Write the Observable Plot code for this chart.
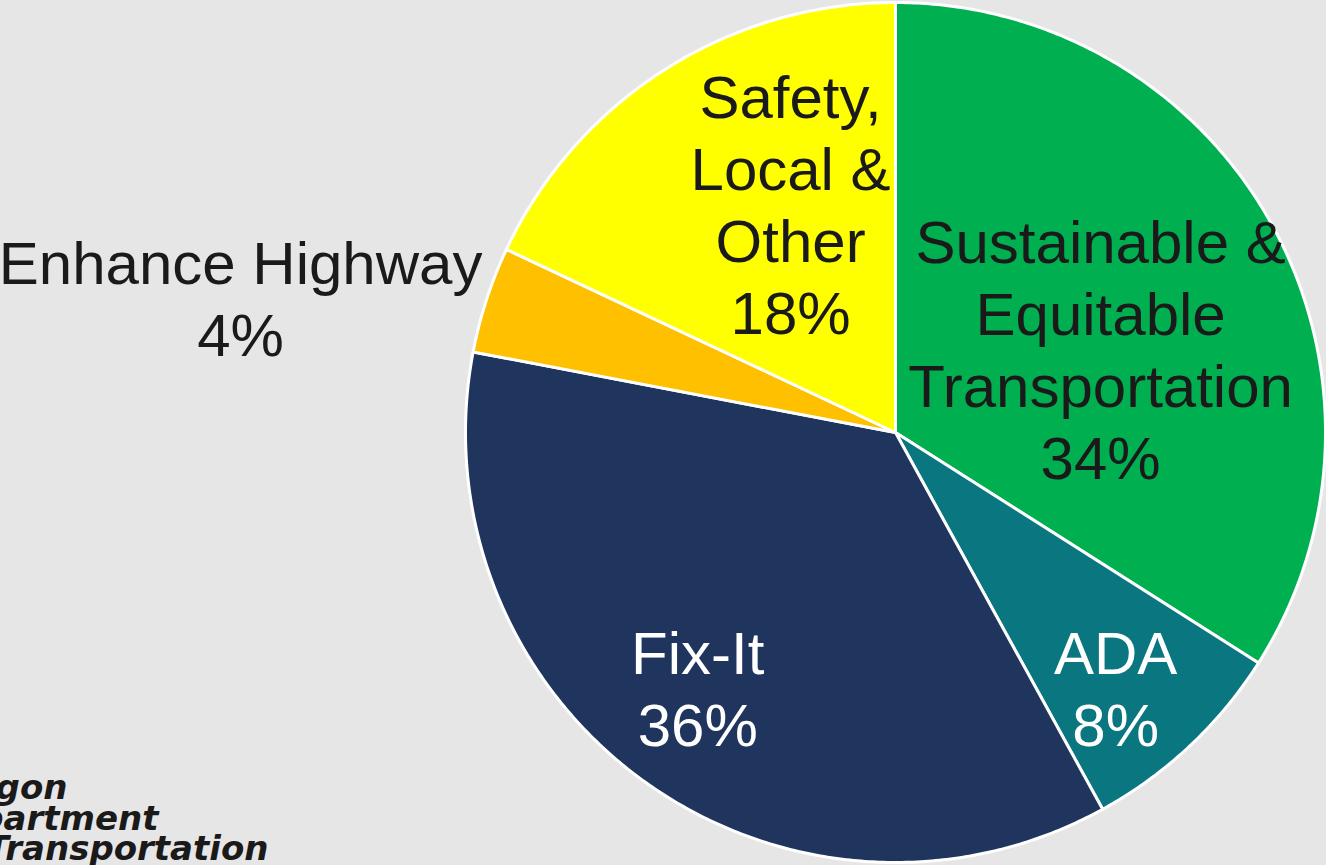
<!DOCTYPE html>
<html>
<head>
<meta charset="utf-8">
<script src="https://cdn.jsdelivr.net/npm/d3@7"></script>
<script src="https://cdn.jsdelivr.net/npm/@observablehq/plot@0.6"></script>
<style>
  html, body { margin: 0; padding: 0; background: #e7e6e6; overflow: hidden; }
  #chart svg { display: block; }
</style>
</head>
<body>
<div id="chart"></div>
<script>
// ---- data ----
const categories = ["Sustainable & Equitable Transportation", "ADA", "Fix-It", "Enhance Highway", "Safety, Local & Other"];
const shares = [34, 8, 36, 4, 18];
const labelTexts = ["Sustainable &\nEquitable\nTransportation\n34%", "ADA\n8%", "Fix-It\n36%", "Enhance Highway\n4%", "Safety,\nLocal &\nOther\n18%"];
const colors = ["#00b050", "#0a7680", "#1f355e", "#ffc000", "#ffff00"];
const logoLines = ["Oregon", "Department", "of Transportation"];

// ---- layout (anchors, in pie-radius units) ----
const labelLayout = [
  {x: 0.477, y: 0.514, fill: "#1a1a1a"},
  {x: 0.512, y: -0.442, fill: "#ffffff"},
  {x: -0.460, y: -0.442, fill: "#ffffff"},
  {x: -1.523, y: 0.465, fill: "#1a1a1a"},
  {x: -0.244, y: 0.851, fill: "#1a1a1a"}
];
const logoLayout = [
  {x: -1.9256, y: -0.8512},
  {x: -1.7140, y: -0.9233},
  {x: -1.4581, y: -0.9953}
];

// slice outlines from d3.pie angles
const arcs = d3.pie().sort(null).value(d => d)(shares);
const slicePts = [];
arcs.forEach((a, i) => {
  slicePts.push({cat: categories[i], x: 0, y: 0});
  const steps = Math.max(2, Math.ceil((a.endAngle - a.startAngle) / (Math.PI / 360)));
  for (let k = 0; k <= steps; k++) {
    const t = a.startAngle + (a.endAngle - a.startAngle) * k / steps;
    slicePts.push({cat: categories[i], x: Math.sin(t), y: Math.cos(t)});
  }
});

const labels = labelTexts.map((t, i) => ({text: t, ...labelLayout[i]}));
const logo = logoLines.map((t, i) => ({text: t, ...logoLayout[i]}));

const chart = Plot.plot({
  width: 1326,
  height: 865,
  marginLeft: 465,
  marginRight: 1,
  marginTop: 2,
  marginBottom: 3,
  x: {domain: [-1, 1], axis: null},
  y: {domain: [-1, 1], axis: null},
  color: {domain: categories, range: colors},
  style: {background: "#e7e6e6", overflow: "hidden"},
  marks: [
    Plot.line(slicePts, {x: "x", y: "y", z: "cat", fill: "cat", stroke: "#ffffff", strokeWidth: 3, curve: "linear-closed"}),
    Plot.text(labels, {
      x: "x", y: "y", text: "text", fill: d => d.fill,
      fontSize: 60, lineHeight: 1.2, lineAnchor: "top", textAnchor: "middle",
      fontFamily: "'Liberation Sans', Arial, sans-serif"
    }),
    Plot.text(logo, {
      x: "x", y: "y", text: "text",
      fontSize: 34, lineAnchor: "bottom", textAnchor: "end",
      fontFamily: "'DejaVu Sans', sans-serif", fontWeight: "bold", fontStyle: "italic", fill: "#1a1a1a"
    })
  ]
});
document.getElementById("chart").appendChild(chart);
</script>
</body>
</html>
